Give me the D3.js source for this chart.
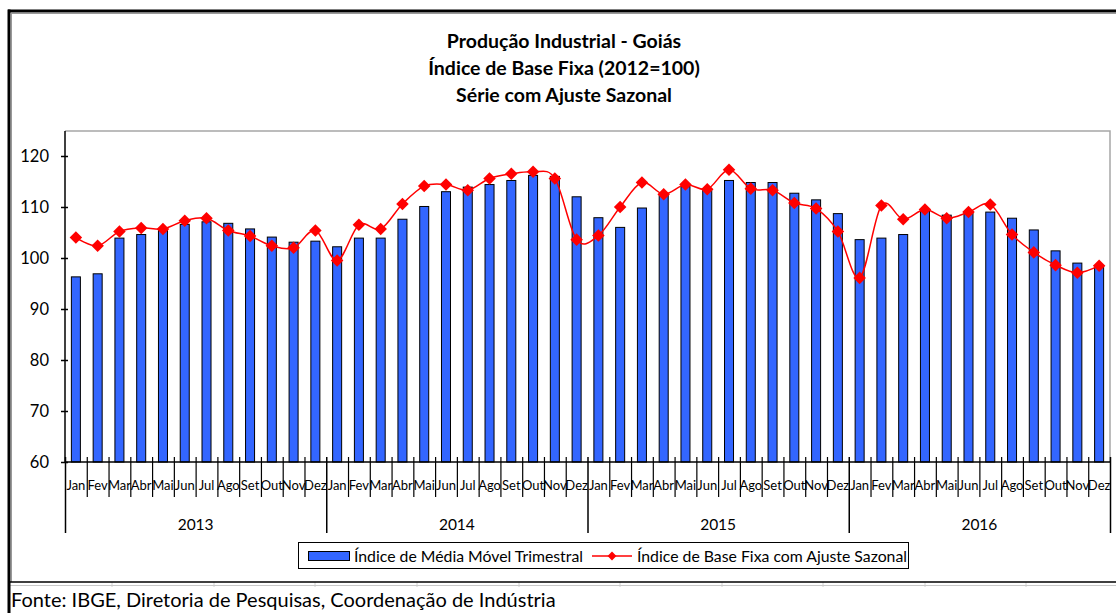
<!DOCTYPE html>
<html>
<head>
<meta charset="utf-8">
<script src="https://cdn.jsdelivr.net/npm/d3@7"></script>
<style>
  html, body { margin: 0; padding: 0; background: #fff; }
  svg { display: block; font-family: Lato, "Open Sans", sans-serif; }
</style>
</head>
<body>
<svg id="chart" width="1116" height="613"></svg>
<script>
// ---------- data ----------
const months = ["Jan","Fev","Mar","Abr","Mai","Jun","Jul","Ago","Set","Out","Nov","Dez"];
const years = ["2013","2014","2015","2016"];
const mediaMovel = [
  96.3, 96.9, 103.9, 104.6, 105.8, 106.6, 107.1, 106.8, 105.7, 104.1, 103.1, 103.3,
  102.2, 103.9, 103.9, 107.6, 110.1, 113.0, 113.9, 114.4, 115.2, 116.2, 116.0, 112.0,
  107.9, 106.0, 109.8, 112.4, 114.0, 113.3, 115.2, 114.8, 114.8, 112.7, 111.4, 108.7,
  103.6, 103.9, 104.6, 109.5, 108.4, 109.0, 109.0, 107.8, 105.5, 101.4, 99.0, 98.4
];
const baseFixa = [
  104.0, 102.4, 105.2, 105.9, 105.7, 107.3, 107.8, 105.4, 104.3, 102.4, 102.0, 105.4,
  99.5, 106.5, 105.7, 110.6, 114.1, 114.4, 113.3, 115.6, 116.5, 116.9, 115.6, 103.6,
  104.4, 110.0, 114.8, 112.5, 114.4, 113.5, 117.3, 113.6, 113.3, 110.8, 109.7, 105.2,
  96.1, 110.3, 107.6, 109.5, 107.8, 109.0, 110.5, 104.6, 101.1, 98.6, 97.1, 98.5
];
const yTicks = [60, 70, 80, 90, 100, 110, 120];
const titleLines = ["Produção Industrial - Goiás", "Índice de Base Fixa (2012=100)", "Série com Ajuste Sazonal"];
const legendLabels = ["Índice de Média Móvel Trimestral", "Índice de Base Fixa com Ajuste Sazonal"];
const sourceText = "Fonte: IBGE, Diretoria de Pesquisas, Coordenação de Indústria";

// ---------- layout ----------
const W = 1116, H = 613;
const plot = { left: 65, right: 1110, top: 131, bottom: 462 };
const blue = "#3366FF", red = "#FF0000";
const svg = d3.select("#chart");

svg.append("rect").attr("width", W).attr("height", H).attr("fill", "#fff");

// spreadsheet cell grid lines below the chart frame
const cellX = [112, 214, 315, 417, 519, 620, 722, 823, 925, 1026];
svg.append("g").selectAll("line").data(cellX).join("line")
  .attr("x1", d => d).attr("x2", d => d).attr("y1", 582).attr("y2", 587)
  .attr("stroke", "#d0d0d0").attr("stroke-width", 1);
svg.append("line").attr("x1", 10).attr("x2", W).attr("y1", 585.5).attr("y2", 585.5)
  .attr("stroke", "#c8c8c8").attr("stroke-width", 1);

// outer frame
svg.append("line").attr("x1", 8).attr("x2", W).attr("y1", 11).attr("y2", 11)
  .attr("stroke", "#000").attr("stroke-width", 3);
svg.append("line").attr("x1", 11).attr("x2", W).attr("y1", 13.5).attr("y2", 13.5)
  .attr("stroke", "#999").attr("stroke-width", 1);
svg.append("line").attr("x1", 9).attr("x2", 9).attr("y1", 9.5).attr("y2", H)
  .attr("stroke", "#000").attr("stroke-width", 3);
svg.append("line").attr("x1", 11.5).attr("x2", 11.5).attr("y1", 13).attr("y2", 582)
  .attr("stroke", "#999").attr("stroke-width", 1);
svg.append("line").attr("x1", 10).attr("x2", W).attr("y1", 582).attr("y2", 582)
  .attr("stroke", "#000").attr("stroke-width", 1.5);

// title
svg.append("g").selectAll("text").data(titleLines).join("text")
  .attr("x", 564).attr("y", (d, i) => 48 + i * 27)
  .attr("text-anchor", "middle").attr("font-weight", "bold").attr("font-size", 19.5)
  .attr("fill", "#000").text(d => d);

// scales
const idx = d3.range(mediaMovel.length);
const x = d3.scaleBand().domain(idx).range([plot.left, plot.right])
  .paddingInner(0.586).paddingOuter(0.293);
const xb = d3.scaleLinear().domain([0, idx.length]).range([plot.left, plot.right]);
const y = d3.scaleLinear().domain([60, 124.9]).range([plot.bottom, plot.top]);

// plot area border (gray top/right)
svg.append("path")
  .attr("d", `M${plot.left},${plot.top}H${plot.right}V${plot.bottom}`)
  .attr("fill", "none").attr("stroke", "#a6a6a6").attr("stroke-width", 1.5);

// bars
svg.append("g").selectAll("rect").data(mediaMovel).join("rect")
  .attr("x", (d, i) => x(i)).attr("width", x.bandwidth())
  .attr("y", d => y(d)).attr("height", d => y(60) - y(d))
  .attr("fill", blue).attr("stroke", "#000").attr("stroke-width", 1);

// y axis
const yAxis = svg.append("g").attr("transform", `translate(${plot.left},0)`)
  .call(d3.axisLeft(y).tickValues(yTicks).tickSize(4).tickSizeOuter(0).tickPadding(12));
yAxis.select(".domain").attr("stroke", "#000").attr("stroke-width", 1.5)
  .attr("d", `M0,${plot.top}V${plot.bottom}`);
yAxis.selectAll(".tick line").attr("x1", 3).attr("x2", -4).attr("stroke-width", 1.5);
yAxis.selectAll(".tick text").attr("font-size", 16.5).attr("fill", "#000")
  .attr("font-family", "Lato, sans-serif");

// x axis: boundary ticks
const xAxis = svg.append("g").attr("transform", `translate(0,${plot.bottom})`)
  .call(d3.axisBottom(xb).tickValues(d3.range(0, idx.length + 1)).tickSize(35).tickFormat("").tickSizeOuter(0));
xAxis.select(".domain").attr("stroke", "#000").attr("stroke-width", 1.5)
  .attr("d", `M${plot.left},0H${plot.right}`);
xAxis.selectAll(".tick line")
  .attr("y1", -5)
  .attr("y2", d => d % 12 === 0 ? 71 : 35)
  .attr("stroke-width", d => d % 12 === 0 ? 1.5 : 1.2);

// month labels
const mAxis = svg.append("g").attr("transform", `translate(0,${plot.bottom})`)
  .call(d3.axisBottom(x).tickSize(0).tickPadding(19).tickFormat(i => months[i % 12]));
mAxis.select(".domain").remove();
mAxis.selectAll(".tick text").attr("font-size", 13).attr("fill", "#000")
  .attr("font-family", "Lato, sans-serif");

// year labels
svg.append("g").selectAll("text").data(years).join("text")
  .attr("x", (d, i) => (xb(i * 12) + xb(i * 12 + 12)) / 2).attr("y", 530)
  .attr("text-anchor", "middle").attr("font-size", 15.5).attr("fill", "#000").text(d => d);

// line (smoothed)
const line = d3.line().x((d, i) => x(i) + x.bandwidth() / 2).y(d => y(d))
  .curve(d3.curveCatmullRom.alpha(0));
svg.append("path").datum(baseFixa).attr("d", line)
  .attr("fill", "none").attr("stroke", red).attr("stroke-width", 1.5);
const diamond = d3.symbol().type(d3.symbolDiamond2).size(100);
svg.append("g").selectAll("path").data(baseFixa).join("path")
  .attr("transform", (d, i) => `translate(${x(i) + x.bandwidth() / 2},${y(d)})`)
  .attr("d", diamond).attr("fill", red);

// legend
const lg = svg.append("g");
lg.append("rect").attr("x", 298.5).attr("y", 542.5).attr("width", 610).attr("height", 26)
  .attr("fill", "#fff").attr("stroke", "#000").attr("stroke-width", 1);
lg.append("rect").attr("x", 308.5).attr("y", 551.5).attr("width", 41).attr("height", 9)
  .attr("fill", blue).attr("stroke", "#000").attr("stroke-width", 1);
lg.append("text").attr("x", 354).attr("y", 561.5).attr("font-size", 15.8).attr("fill", "#000")
  .text(legendLabels[0]);
lg.append("line").attr("x1", 592).attr("x2", 632).attr("y1", 556).attr("y2", 556)
  .attr("stroke", red).attr("stroke-width", 1.5);
lg.append("path").attr("transform", "translate(612,556)")
  .attr("d", d3.symbol().type(d3.symbolDiamond2).size(50)).attr("fill", red);
lg.append("text").attr("x", 637).attr("y", 561.5).attr("font-size", 15.8).attr("fill", "#000")
  .text(legendLabels[1]);

// source
svg.append("text").attr("x", 11).attr("y", 607).attr("font-size", 20).attr("fill", "#000")
  .text(sourceText);
</script>
</body>
</html>
